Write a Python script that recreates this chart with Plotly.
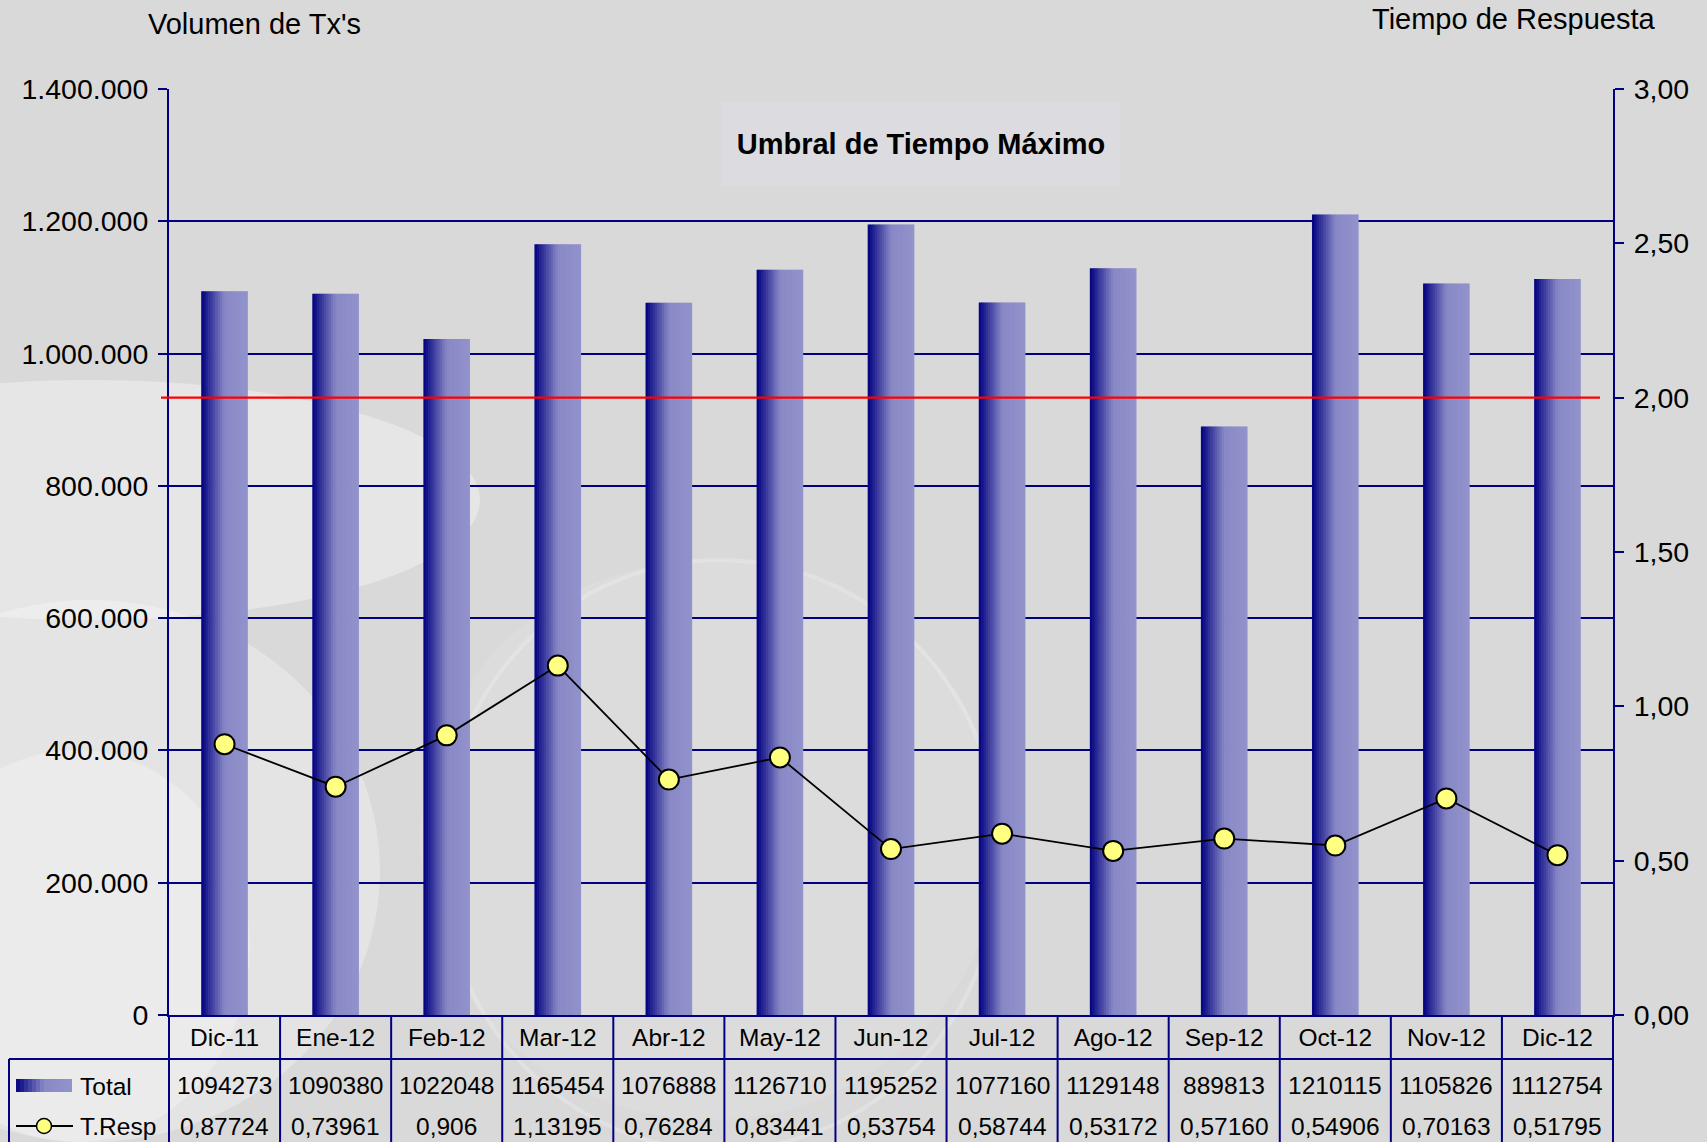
import plotly.graph_objects as go

# ---------------- data ----------------
months = ["Dic-11", "Ene-12", "Feb-12", "Mar-12", "Abr-12", "May-12", "Jun-12",
          "Jul-12", "Ago-12", "Sep-12", "Oct-12", "Nov-12", "Dic-12"]
total = [1094273, 1090380, 1022048, 1165454, 1076888, 1126710, 1195252,
         1077160, 1129148, 889813, 1210115, 1105826, 1112754]
tresp = [0.87724, 0.73961, 0.906, 1.13195, 0.76284, 0.83441, 0.53754,
         0.58744, 0.53172, 0.57160, 0.54906, 0.70163, 0.51795]
tresp_labels = ["0,87724", "0,73961", "0,906", "1,13195", "0,76284", "0,83441", "0,53754",
                "0,58744", "0,53172", "0,57160", "0,54906", "0,70163", "0,51795"]
threshold = 2.0
left_title = "Volumen de Tx's"
right_title = "Tiempo de Respuesta"
box_title = "Umbral de Tiempo Máximo"
series_names = ["Total", "T.Resp"]

# ---------------- geometry helpers ----------------
W, H = 1707, 1142
ML, MR, MT, MB = 169, 94, 89, 127
PW, PH = W - ML - MR, H - MT - MB


def px2x(px):
    return (px - ML) / PW


def py2y(py):
    return (H - MB - py) / PH


NAVY = "#000080"
FONT = "Liberation Sans, Arial, sans-serif"


def grad_color(t):
    # dark navy on the left, ramping to light lavender
    c0 = (0, 0, 128)
    c1 = (136, 136, 198)
    c2 = (146, 146, 204)
    if t < 0.5:
        a = t / 0.5
        c = [c0[k] + (c1[k] - c0[k]) * a for k in range(3)]
    else:
        a = (t - 0.5) / 0.5
        c = [c1[k] + (c2[k] - c1[k]) * a for k in range(3)]
    return "rgb(%d,%d,%d)" % tuple(int(round(v)) for v in c)


fig = go.Figure()

# gradient bars built from vertical strips
BAR_W = 0.42
N = 20
sw = BAR_W / N
for i in range(N):
    fig.add_trace(go.Bar(
        x=months, y=total, name=series_names[0],
        width=[sw * (1.3 if i < N - 1 else 1.0)] * len(months),
        offset=-BAR_W / 2 + i * sw,
        marker=dict(color=grad_color((i + 0.5) / N), line=dict(width=0)),
        showlegend=False, hoverinfo="skip" if i else "x+y",
    ))

# response time line
fig.add_trace(go.Scatter(
    x=months, y=tresp, yaxis="y2", name=series_names[1], mode="lines+markers",
    line=dict(color="black", width=1.8),
    marker=dict(size=20, color="#ffff80", line=dict(color="black", width=2)),
    showlegend=False,
))

shapes = []

# soft background decoration (light photo-like swirl)
for (x0, y0, x1, y1, op) in [(-300, 380, 480, 620, 0.35), (-200, 600, 380, 1142, 0.30),
                             (-100, 750, 250, 1142, 0.25), (420, 560, 1000, 1120, 0.10)]:
    shapes.append(dict(type="circle", xref="paper", yref="paper", layer="below",
                       x0=px2x(x0), x1=px2x(x1), y0=py2y(y1), y1=py2y(y0),
                       fillcolor="rgba(255,255,255,%s)" % op, line=dict(width=0)))
shapes.append(dict(type="circle", xref="paper", yref="paper", layer="below",
                   x0=px2x(440), x1=px2x(1000), y0=py2y(1150), y1=py2y(560),
                   line=dict(color="rgba(255,255,255,0.22)", width=4)))

# threshold line (right axis)
shapes.append(dict(type="line", xref="paper", yref="y2", x0=px2x(161), x1=px2x(1600),
                   y0=threshold, y1=threshold, line=dict(color="#ff0000", width=2.2)))

# data table grid
n = len(months)
row_line = py2y(1059)
bottom = py2y(1150)
left_edge = px2x(9)
for i in range(n + 1):
    shapes.append(dict(type="line", xref="paper", yref="paper", x0=i / n, x1=i / n,
                       y0=0, y1=bottom, line=dict(color=NAVY, width=2)))
shapes.append(dict(type="line", xref="paper", yref="paper", x0=left_edge, x1=1,
                   y0=row_line, y1=row_line, line=dict(color=NAVY, width=2)))
shapes.append(dict(type="line", xref="paper", yref="paper", x0=left_edge, x1=left_edge,
                   y0=row_line, y1=bottom, line=dict(color=NAVY, width=2)))

# legend keys
ys_total = (py2y(1079), py2y(1092))
k0, k1 = 16, 72
NK = 14
for i in range(NK):
    a = k0 + (k1 - k0) * i / NK
    b = k0 + (k1 - k0) * (i + 1.3) / NK if i < NK - 1 else k1
    shapes.append(dict(type="rect", xref="paper", yref="paper", x0=px2x(a), x1=px2x(b),
                       y0=ys_total[1], y1=ys_total[0], fillcolor=grad_color((i + 0.5) / NK),
                       line=dict(width=0)))
yr = py2y(1126)
shapes.append(dict(type="line", xref="paper", yref="paper", x0=px2x(16), x1=px2x(73),
                   y0=yr, y1=yr, line=dict(color="black", width=1.8)))
r = 7.5
shapes.append(dict(type="circle", xref="paper", yref="paper",
                   x0=px2x(44 - r), x1=px2x(44 + r), y0=py2y(1126 + r), y1=py2y(1126 - r),
                   fillcolor="#ffff80", line=dict(color="black", width=1.5)))


def ann(text, x, y, size, xref="paper", xanchor="center", **kw):
    d = dict(text=text, xref=xref, yref="paper", x=x, y=y, xanchor=xanchor,
             yanchor="middle", showarrow=False,
             font=dict(size=size, color="black", family=FONT))
    d.update(kw)
    return d


annotations = [
    ann(left_title, px2x(254), py2y(24), 29),
    ann(right_title, px2x(1514), py2y(19), 29),
    ann("<b>%s</b>" % box_title, px2x(921), py2y(144), 29, width=396, height=82,
        bgcolor="#dcdce0"),
    ann(series_names[0], px2x(78), py2y(1086), 24.5, xanchor="left"),
    ann(series_names[1], px2x(78), py2y(1126), 24.5, xanchor="left"),
]
for m, v, lab in zip(months, total, tresp_labels):
    annotations.append(ann(str(v), m, py2y(1085), 24.5, xref="x"))
    annotations.append(ann(lab, m, py2y(1126), 24.5, xref="x"))

fig.update_layout(
    width=W, height=H, autosize=False,
    margin=dict(l=ML, r=MR, t=MT, b=MB, pad=0),
    paper_bgcolor="#d9d9d9", plot_bgcolor="rgba(0,0,0,0)",
    barmode="overlay", separators=",.",
    font=dict(family=FONT, color="black"),
    showlegend=False,
    xaxis=dict(type="category", range=[-0.5, n - 0.5], showgrid=False, zeroline=False,
               showline=True, linecolor=NAVY, linewidth=2, ticks="",
               tickfont=dict(size=24.5, family=FONT, color="black"), ticklabelstandoff=0,
               fixedrange=True),
    yaxis=dict(range=[0, 1400000], dtick=200000, tickformat=",d", showgrid=True,
               gridcolor=NAVY, gridwidth=1.6, zeroline=False, showline=True,
               linecolor=NAVY, linewidth=2, ticks="outside", ticklen=9, tickcolor=NAVY,
               tickwidth=2, tickfont=dict(size=28.5, family=FONT, color="black"),
               ticklabelstandoff=4),
    yaxis2=dict(range=[0, 3], dtick=0.5, tickformat=".2f", overlaying="y", side="right",
                showgrid=False, zeroline=False, showline=True, linecolor=NAVY, linewidth=2,
                ticks="outside", ticklen=9, tickcolor=NAVY, tickwidth=2,
                tickfont=dict(size=28.5, family=FONT, color="black"), ticklabelstandoff=4),
    shapes=shapes, annotations=annotations,
)

fig.write_html("out.html", config={"displayModeBar": False},
               post_script="document.body.style.margin='0';document.body.style.overflow='hidden';")
